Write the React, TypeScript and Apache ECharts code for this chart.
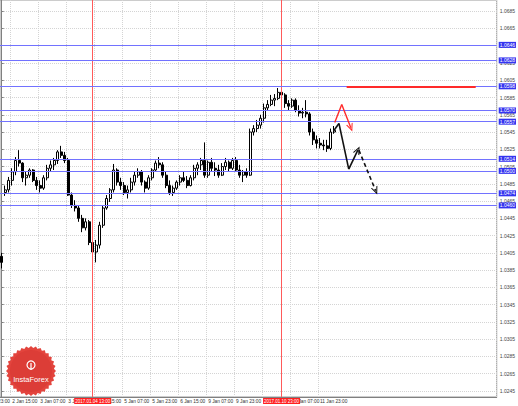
import React, { useEffect, useRef } from "react";
import * as echarts from "echarts";

// time axis labels (every 8 bars)
const timeLabels = [
  "2 Jan 15:00", "3 Jan 07:00", "3 Jan 23:00", "4 Jan 15:00", "5 Jan 07:00", "5 Jan 23:00",
  "6 Jan 15:00", "9 Jan 07:00", "9 Jan 23:00", "10 Jan 15:00", "11 Jan 07:00", "11 Jan 23:00",
];
const clippedFirstLabel = "1 Jan 23:00";
const totalSlots = 142;

// price axis ticks
const priceTicks = [
  1.0245, 1.0265, 1.0285, 1.0305, 1.0325, 1.0345, 1.0365, 1.0385, 1.0405, 1.0425, 1.0445, 1.0465,
  1.0485, 1.0505, 1.0525, 1.0545, 1.0565, 1.0585, 1.0605, 1.0625, 1.0645, 1.0665, 1.0685,
];

// OHLC
const opens = [
  1.0401, 1.0475, 1.0478, 1.0489, 1.0499, 1.0512, 1.0509, 1.0492, 1.0495, 1.0501,
  1.0489, 1.0483, 1.0480, 1.0492, 1.0503, 1.0507, 1.0512, 1.0522, 1.0518, 1.0512,
  1.0472, 1.0460, 1.0457, 1.0445, 1.0434, 1.0441, 1.0417, 1.0406, 1.0414, 1.0437,
  1.0457, 1.0468, 1.0478, 1.0501, 1.0487, 1.0483, 1.0475, 1.0478, 1.0487, 1.0495,
  1.0499, 1.0487, 1.0480, 1.0492, 1.0501, 1.0509, 1.0507, 1.0495, 1.0483, 1.0475,
  1.0480, 1.0487, 1.0492, 1.0489, 1.0483, 1.0492, 1.0503, 1.0507, 1.0512, 1.0495,
  1.0510, 1.0503, 1.0501, 1.0495, 1.0505, 1.0510, 1.0503, 1.0512, 1.0501, 1.0495,
  1.0499, 1.0495, 1.0545, 1.0549, 1.0553, 1.0561, 1.0573, 1.0577, 1.0582, 1.0584,
  1.0591, 1.0588, 1.0578, 1.0575, 1.0582, 1.0570, 1.0567, 1.0568, 1.0566, 1.0545,
  1.0536, 1.0532, 1.0530, 1.0529, 1.0526, 1.0545,
];
const closes = [
  1.0394, 1.0478, 1.0489, 1.0499, 1.0512, 1.0509, 1.0492, 1.0495, 1.0501, 1.0489,
  1.0483, 1.0480, 1.0492, 1.0503, 1.0507, 1.0512, 1.0522, 1.0518, 1.0512, 1.0472,
  1.0460, 1.0457, 1.0445, 1.0434, 1.0441, 1.0417, 1.0406, 1.0414, 1.0437, 1.0457,
  1.0468, 1.0478, 1.0501, 1.0487, 1.0483, 1.0475, 1.0478, 1.0487, 1.0495, 1.0499,
  1.0487, 1.0480, 1.0492, 1.0501, 1.0509, 1.0507, 1.0495, 1.0483, 1.0475, 1.0480,
  1.0487, 1.0492, 1.0489, 1.0483, 1.0492, 1.0503, 1.0507, 1.0512, 1.0495, 1.0510,
  1.0503, 1.0501, 1.0495, 1.0505, 1.0510, 1.0503, 1.0512, 1.0501, 1.0495, 1.0499,
  1.0495, 1.0545, 1.0549, 1.0553, 1.0561, 1.0573, 1.0577, 1.0582, 1.0584, 1.0591,
  1.0588, 1.0578, 1.0575, 1.0582, 1.0570, 1.0567, 1.0568, 1.0566, 1.0545, 1.0536,
  1.0532, 1.0530, 1.0529, 1.0526, 1.0545, 1.0547,
];
const lows = [
  1.0387, 1.0471, 1.0475, 1.0483, 1.0495, 1.0505, 1.0487, 1.0483, 1.0492, 1.0487,
  1.0478, 1.0475, 1.0478, 1.0489, 1.0499, 1.0501, 1.0508, 1.0515, 1.0509, 1.0471,
  1.0457, 1.0453, 1.0441, 1.0429, 1.0431, 1.0414, 1.0399, 1.0394, 1.0410, 1.0434,
  1.0455, 1.0464, 1.0475, 1.0483, 1.0478, 1.0472, 1.0468, 1.0475, 1.0483, 1.0492,
  1.0483, 1.0475, 1.0478, 1.0489, 1.0499, 1.0503, 1.0492, 1.0480, 1.0472, 1.0471,
  1.0478, 1.0483, 1.0487, 1.0480, 1.0482, 1.0489, 1.0495, 1.0501, 1.0492, 1.0492,
  1.0499, 1.0494, 1.0492, 1.0494, 1.0501, 1.0499, 1.0501, 1.0499, 1.0492, 1.0487,
  1.0492, 1.0494, 1.0541, 1.0545, 1.0549, 1.0556, 1.0570, 1.0575, 1.0575, 1.0582,
  1.0584, 1.0573, 1.0570, 1.0573, 1.0568, 1.0563, 1.0561, 1.0562, 1.0541, 1.0530,
  1.0526, 1.0526, 1.0524, 1.0522, 1.0524, 1.0543,
];
const highs = [
  1.0405, 1.0483, 1.0493, 1.0503, 1.0516, 1.0524, 1.0510, 1.0499, 1.0503, 1.0502,
  1.0493, 1.0489, 1.0495, 1.0507, 1.0512, 1.0515, 1.0524, 1.0529, 1.0522, 1.0515,
  1.0475, 1.0466, 1.0460, 1.0449, 1.0445, 1.0443, 1.0422, 1.0420, 1.0441, 1.0460,
  1.0472, 1.0480, 1.0508, 1.0503, 1.0492, 1.0487, 1.0483, 1.0492, 1.0499, 1.0503,
  1.0501, 1.0489, 1.0495, 1.0503, 1.0512, 1.0516, 1.0510, 1.0499, 1.0489, 1.0483,
  1.0489, 1.0495, 1.0499, 1.0494, 1.0495, 1.0507, 1.0510, 1.0515, 1.0533, 1.0512,
  1.0515, 1.0510, 1.0507, 1.0509, 1.0515, 1.0512, 1.0515, 1.0516, 1.0507, 1.0501,
  1.0503, 1.0549, 1.0553, 1.0559, 1.0565, 1.0578, 1.0582, 1.0588, 1.0589, 1.0596,
  1.0596, 1.0590, 1.0582, 1.0584, 1.0584, 1.0576, 1.0573, 1.0582, 1.0568, 1.0549,
  1.0541, 1.0538, 1.0536, 1.0536, 1.0549, 1.0552,
];

// support / resistance levels
const blueLevels = [1.0646, 1.0628, 1.0598, 1.057, 1.0557, 1.0514, 1.05, 1.0474, 1.046];
const currentPrice = 1.0547;
const redLevel = 1.0598;
const redLevelFrom = 98.6;
const redLevelTo = 135.5;

// vertical separators (bar index) and their labels
const redVLines = [26, 80];
const redVLabels = ["2017.01.04 13:00", "2017.01.10 23:00"];

// projection paths: [bar index, price]
const blackSolid = [[95, 1.0547], [96.4, 1.0555], [99.2, 1.0502], [101.8, 1.0524]];
const blackDashed = [[102.1, 1.0524], [106.9, 1.0477]];
const redZigzag = [[95.2, 1.0556], [97.2, 1.0577], [99.8, 1.055]];

const CHEVRON = "path://M0,10 L5,0 L10,10 L8.4,10 L5,3.2 L1.6,10 Z";
const FONT = "Liberation Sans, Arial, sans-serif";

function pathSegments(pts: number[][], color: string, width: number, type: any) {
  const out: any[] = [];
  for (let k = 0; k < pts.length - 1; k++) {
    const last = k === pts.length - 2;
    out.push([
      { coord: pts[k], symbol: "none", lineStyle: { color, width, type } },
      { coord: pts[k + 1], symbol: last ? CHEVRON : "none", symbolSize: last ? [7, 8] : 0 },
    ]);
  }
  return out;
}

export default function App() {
  const ref = useRef<HTMLDivElement>(null);
  useEffect(() => {
    const chart = echarts.init(ref.current!, null, { renderer: "svg" });
    const tickIdx = (i: number) => i >= 3 && (i - 3) % 8 === 0 && (i - 3) / 8 < timeLabels.length;
    const categories = Array.from({ length: totalSlots }, (_, i) =>
      tickIdx(i) ? timeLabels[(i - 3) / 8] : ""
    );
    const candles = opens.map((o, i) => [o, closes[i], lows[i], highs[i]]);
    const xMin = -0.5;
    const xMax = totalSlots - 0.5;

    const levelLabel = (text: string, bg: string) => ({
      show: true,
      position: "end",
      distance: 2,
      formatter: text,
      backgroundColor: bg,
      color: "#fff",
      padding: [1, 1, 0, 1],
      fontSize: 5,
      fontFamily: FONT,
    });

    // vertical separators on the candle (category) axis
    const candleMarks: any[] = [];
    redVLines.forEach((x, k) => {
      candleMarks.push({
        xAxis: x,
        lineStyle: { color: "#ff5a5a", width: 1, type: "solid" },
        label: {
          show: true,
          position: "start",
          distance: 1,
          formatter: redVLabels[k],
          backgroundColor: "#ff2020",
          color: "#fff",
          padding: [1, 1, 0, 1],
          fontSize: 4.5,
          fontFamily: FONT,
        },
      });
    });

    // levels + projections on the value x axis
    const projMarks: any[] = [];
    blueLevels.forEach((v) => {
      projMarks.push([
        {
          coord: [xMin, v],
          symbol: "none",
          lineStyle: { color: "#7272ff", width: 1, type: "solid" },
          label: levelLabel(v.toFixed(4), "#3434f0"),
        },
        { coord: [xMax, v], symbol: "none" },
      ]);
    });
    projMarks.push([
      {
        coord: [xMin, currentPrice],
        symbol: "none",
        lineStyle: { color: "#ffffff", opacity: 0, width: 0 },
        label: levelLabel(currentPrice.toFixed(4), "#1a1a2e"),
      },
      { coord: [xMax, currentPrice], symbol: "none" },
    ]);
    projMarks.push([
      { coord: [redLevelFrom, redLevel], symbol: "none", lineStyle: { color: "#ff2a2a", width: 2, type: "solid" } },
      { coord: [redLevelTo, redLevel], symbol: "none" },
    ]);
    projMarks.push(...pathSegments(blackSolid, "#111111", 1.6, "solid"));
    projMarks.push(...pathSegments(blackDashed, "#111111", 1.6, [4, 3]));
    projMarks.push(...pathSegments(redZigzag, "#ff2a2a", 1.4, "solid"));

    // logo starburst
    const cx = 31, cy = 371;
    const star: number[][] = [];
    for (let k = 0; k < 64; k++) {
      const a = (k * Math.PI) / 32;
      const r = k % 2 === 0 ? 25 : 23;
      star.push([cx + r * Math.cos(a), cy + r * Math.sin(a)]);
    }

    const option: any = {
      animation: false,
      backgroundColor: "#ffffff",
      grid: { left: 0, top: 0, right: 21, bottom: 9, show: true, borderColor: "#9a9a9a", borderWidth: 1 },
      xAxis: [
        {
          type: "category",
          data: categories,
          boundaryGap: true,
          axisLine: { lineStyle: { color: "#808080" } },
          axisTick: { interval: (i: number) => tickIdx(i), length: 2, lineStyle: { color: "#808080" } },
          axisLabel: {
            interval: (i: number) => tickIdx(i),
            showMinLabel: true,
            showMaxLabel: true,
            hideOverlap: false,
            align: "left",
            margin: 2,
            color: "#333",
            fontSize: 4.8,
            fontFamily: FONT,
          },
          splitLine: {
            show: true,
            interval: (i: number) => tickIdx(i),
            lineStyle: { color: "#d4d4d4", type: "dotted", width: 1 },
          },
        },
        { type: "value", min: xMin, max: xMax, show: false },
      ],
      yAxis: {
        type: "value",
        position: "right",
        min: 1.0238,
        max: 1.0698,
        axisLine: { show: true, lineStyle: { color: "#808080" } },
        axisTick: { show: true, customValues: priceTicks, length: 2, lineStyle: { color: "#808080" } },
        axisLabel: {
          customValues: priceTicks,
          formatter: (v: number) => v.toFixed(4),
          margin: 3,
          color: "#444",
          fontSize: 5,
          fontFamily: FONT,
        },
        splitLine: { show: true, lineStyle: { color: "#d4d4d4", type: "dotted", width: 1 } },
      },
      series: [
        {
          type: "candlestick",
          data: candles,
          barWidth: 2.5,
          itemStyle: {
            color: "#ffffff",
            color0: "#000000",
            borderColor: "#000000",
            borderColor0: "#000000",
            borderWidth: 1,
          },
          markLine: {
            silent: true,
            symbol: "none",
            label: { show: false },
            data: candleMarks,
          },
        },
        {
          type: "line",
          xAxisIndex: 1,
          data: blackSolid,
          symbol: "none",
          lineStyle: { opacity: 0 },
          markLine: {
            silent: true,
            symbol: "none",
            label: { show: false },
            data: projMarks,
          },
        },
      ],
      graphic: [
        {
          type: "text",
          x: 10,
          y: 399,
          style: { text: clippedFirstLabel, fill: "#333", textAlign: "right", font: "4.8px " + FONT },
        },
        { type: "polygon", shape: { points: star }, style: { fill: "#e3443d" }, z: 50 },
        { type: "circle", shape: { cx, cy, r: 21 }, style: { fill: "#dc3d37" }, z: 51 },
        {
          type: "group",
          z: 52,
          children: [
            { type: "circle", shape: { cx, cy: cy - 6, r: 4 }, style: { fill: "none", stroke: "#fff", lineWidth: 1.2 }, z: 52 },
            { type: "line", shape: { x1: cx, y1: cy - 8, x2: cx, y2: cy - 1 }, style: { stroke: "#fff", lineWidth: 1.2 }, z: 52 },
            {
              type: "text",
              x: cx,
              y: cy + 8,
              style: { text: "InstaForex", fill: "#fff", textAlign: "center", textVerticalAlign: "middle", font: "7.5px " + FONT },
              z: 52,
            },
          ],
        },
      ],
    };
    chart.setOption(option);
    return () => chart.dispose();
  }, []);
  return (
    <div
      ref={ref}
      style={{ position: "absolute", left: 0, top: 0, width: 518, height: 406, background: "#fff" }}
    />
  );
}
